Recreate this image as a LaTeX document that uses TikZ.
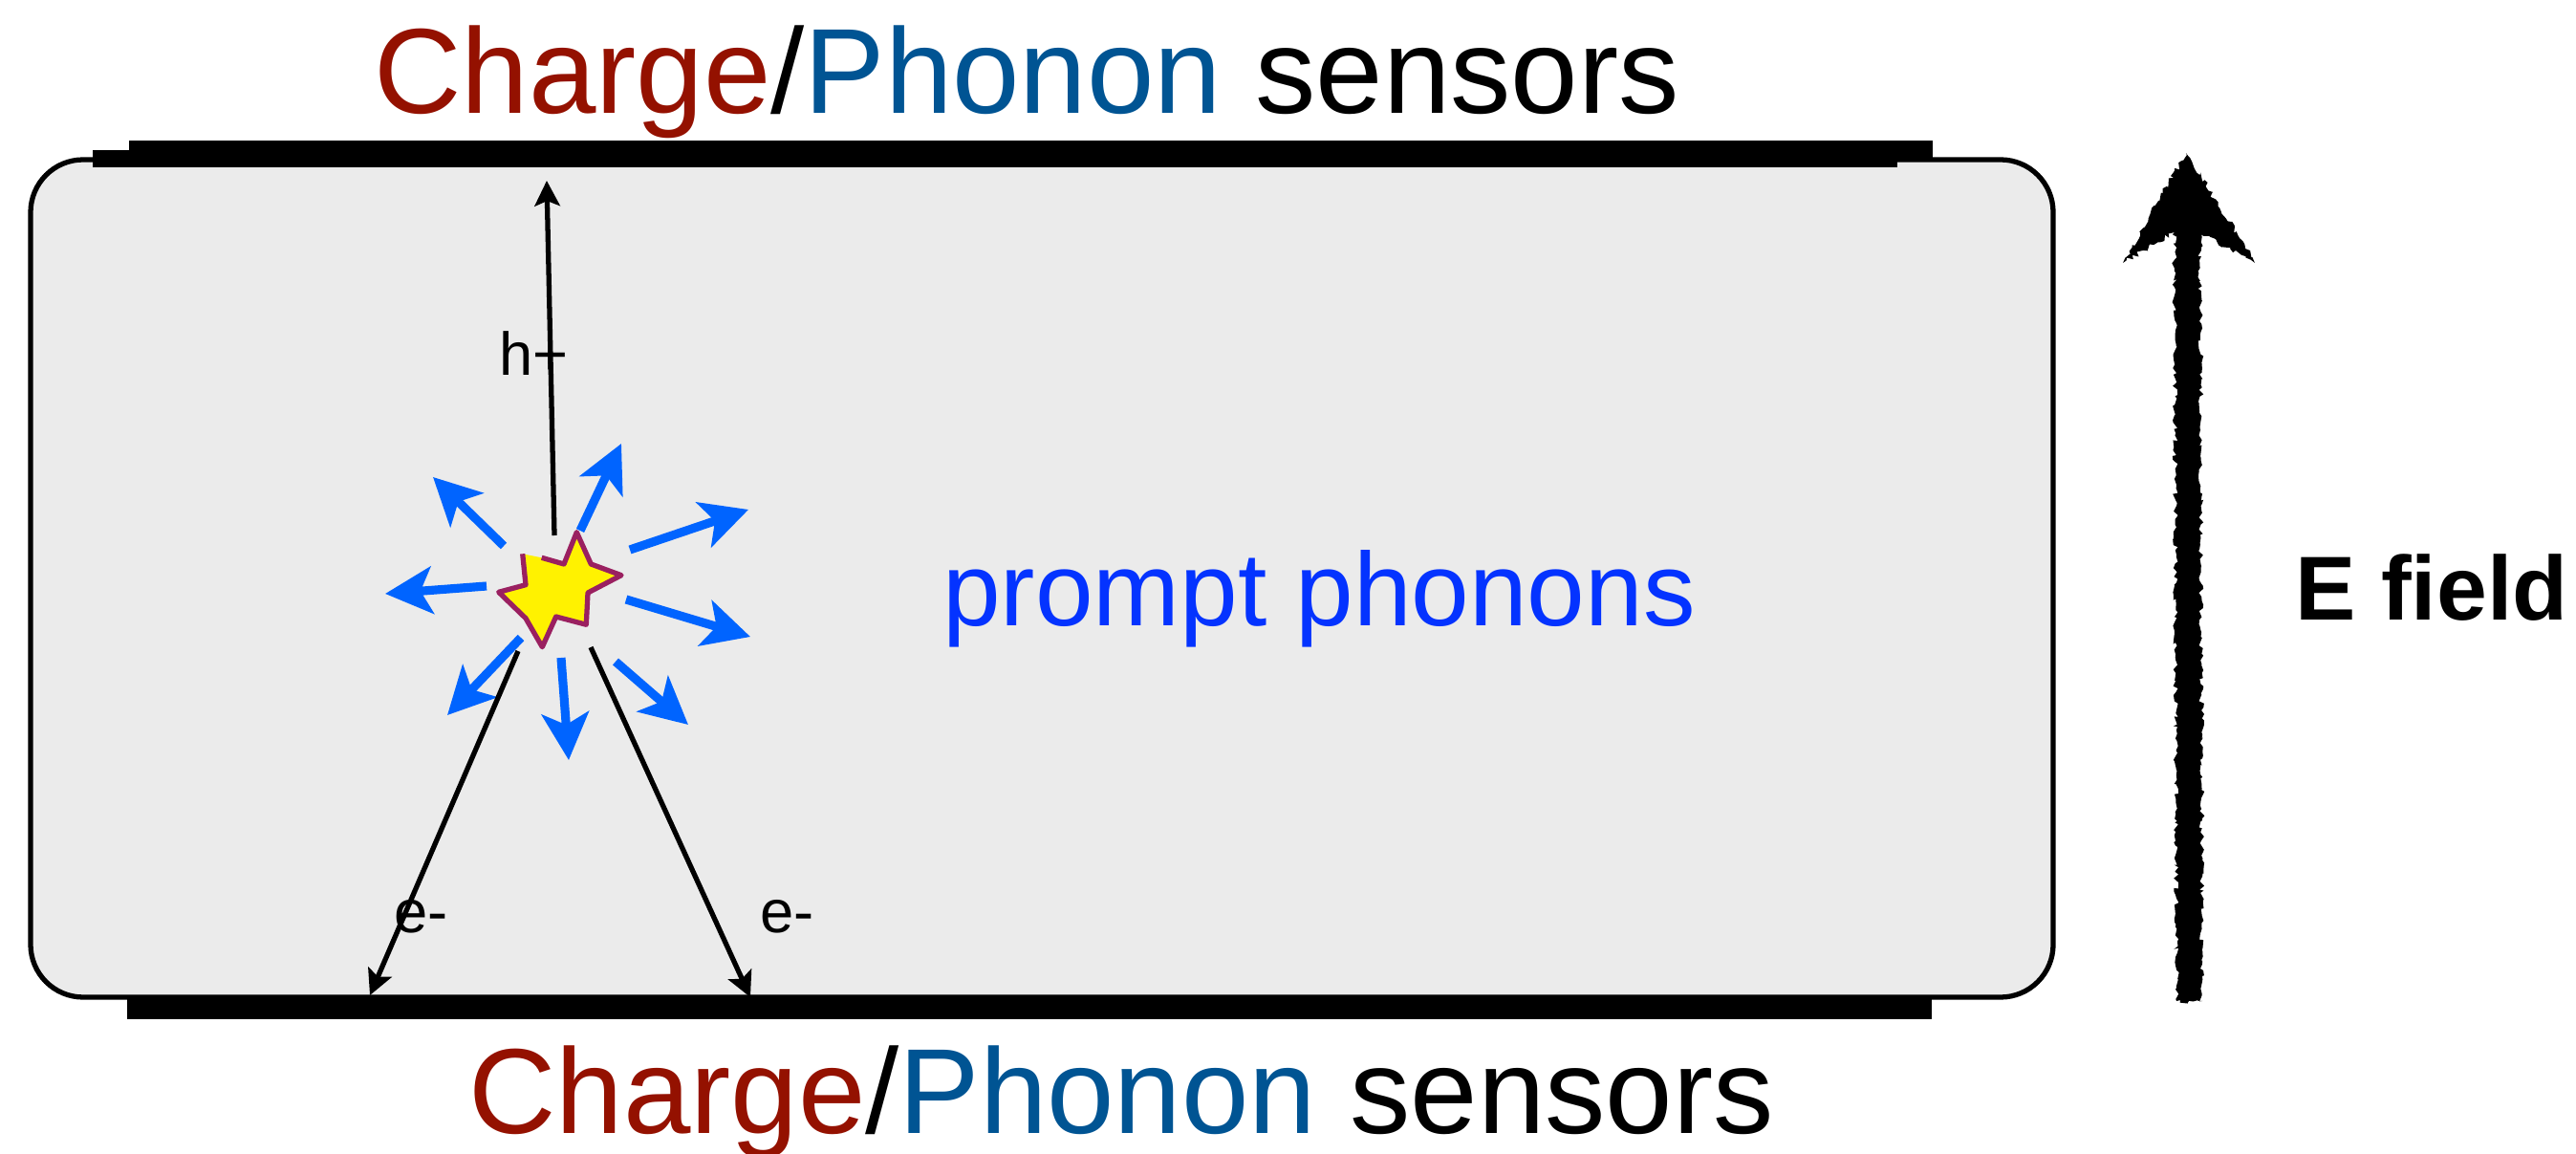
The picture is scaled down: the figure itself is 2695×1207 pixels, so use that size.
\documentclass[tikz,border=0pt]{standalone}
\usepackage{fontspec}
\setmainfont{Liberation Sans}
\usetikzlibrary{arrows.meta,decorations.pathmorphing}
\definecolor{chargered}{HTML}{941100}
\definecolor{phononblue}{HTML}{005493}
\definecolor{promptblue}{HTML}{0433FF}
\definecolor{phonarrow}{HTML}{0064FF}
\definecolor{starline}{HTML}{9A2060}
\definecolor{boxgray}{HTML}{EBEBEB}

\begin{document}
\begin{tikzpicture}[x=0.01cm,y=-0.01cm,
  carrier/.style={line width=1.5pt,-{Stealth[length=7.5pt,width=7.5pt,inset=1.5pt]}},
  phonon/.style={draw=phonarrow,line width=2.6pt,-{Stealth[length=14pt,width=14pt,inset=3.5pt]}},
  lbl/.style={inner sep=0pt,anchor=base west,font=\fontsize{18}{20}\selectfont},
  sens/.style={inner sep=0pt,anchor=base,font=\fontsize{36}{40}\selectfont}]
\useasboundingbox (0,0) rectangle (2695,1207);

% crystal
\draw[line width=1.5pt,fill=boxgray,rounded corners=0.55cm] (32,167) rectangle (2148,1043);

% sensor plates
\fill (97,157) rectangle (1985,175);
\fill (135,147) rectangle (2022,165);
\fill (133,1043) rectangle (2021,1066);

\node[sens] (topsens) at (1074,119) {\textcolor{chargered}{Charge}/\textcolor{phononblue}{Phonon} sensors};
\node[sens] (botsens) at (1173,1185) {\textcolor{chargered}{Charge}/\textcolor{phononblue}{Phonon} sensors};

% phonons
\foreach \ax/\ay/\bx/\by [count=\i] in {607/555/650/464, 659/575/783/533, 655/627/785/666, 644/692/720/758,
    587/688/595/795, 545/667/468/748, 509/613/403/621, 527/571/453/499}{
  \coordinate (ph\i a) at (\ax,\ay);
  \coordinate (ph\i b) at (\bx,\by);
  \draw[phonon] (ph\i a) -- (ph\i b);
}

% interaction
\coordinate (star) at (585,615);
\fill[yellow] (546.7,579.3) -- (550,611.7) -- (521.7,619.3) -- (550,646.7) -- (567.3,676.7) -- (581.7,645)
  -- (613.3,653.3) -- (615,620) -- (650,601.7) -- (618.3,590) -- (603.3,556.7) -- (590,590) -- (566.7,583.3) -- cycle;
\draw[starline,line width=1.5pt,line join=round] (546.7,579.3) -- (550,611.7) -- (521.7,619.3) -- (550,646.7)
  -- (567.3,676.7) -- (581.7,645) -- (613.3,653.3) -- (615,620) -- (650,601.7) -- (618.3,590) -- (603.3,556.7)
  -- (590,590) -- (566.7,583.3);

% charge carriers
\coordinate (hs) at (580,560);
\coordinate (ht) at (572,189);
\coordinate (e1s) at (542,681);
\coordinate (e1t) at (387,1041);
\coordinate (e2s) at (618,677);
\coordinate (e2t) at (785,1043);
\draw[carrier] (hs) -- (ht);
\draw[carrier] (e1s) -- (e1t);
\draw[carrier] (e2s) -- (e2t);
\node[lbl] (hlbl) at (522,393) {h+};
\node[lbl] (e1lbl) at (412,975) {e-};
\node[lbl] (e2lbl) at (795,975) {e-};

\node[inner sep=0pt,anchor=base,text=promptblue,font=\fontsize{31}{36}\selectfont] (prompt) at (1380,655) {prompt phonons};

% field
\fill[decorate,decoration={random steps,segment length=1pt,amplitude=0.8pt}]
  (2277,1047) -- (2275,243) -- (2221,275) -- (2287,160) -- (2359,275) -- (2302,243) -- (2304,1047) -- cycle;
\node[inner sep=0pt,anchor=base west,font=\bfseries\fontsize{27}{32}\selectfont] (efield) at (2401,649) {E field};
\end{tikzpicture}
\end{document}
